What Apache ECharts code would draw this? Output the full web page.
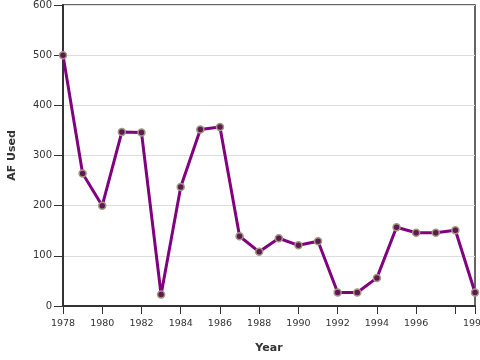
<!DOCTYPE html>
<html>
<head>
<meta charset="utf-8">
<script src="https://cdn.jsdelivr.net/npm/echarts@6/dist/echarts.min.js"></script>
<style>html,body{margin:0;padding:0;background:#fff}#c{width:480px;height:360px}</style>
</head>
<body>
<div id="c"></div>
<script>
var years = [1978,1979,1980,1981,1982,1983,1984,1985,1986,1987,1988,1989,1990,1991,1992,1993,1994,1995,1996,1997,1998,1999];
var afUsed = [500,264,200,347,346,23,237,352,357,139,108,135,121,129,27,27,56,157,146,146,151,27];
var yTicks = [0,100,200,300,400,500,600];

var chart = echarts.init(document.getElementById('c'), null, {renderer:'canvas'});
var font = 'DejaVu Sans';
chart.setOption({
  animation: false,
  grid: {left:63, right:5, top:5, bottom:54, outerBoundsMode:'none', containLabel:false,
         show:true, borderColor:'#333', borderWidth:1.5, backgroundColor:'transparent'},
  xAxis: {
    type:'value', min:1978, max:1999, interval:2,
    name:'Year', nameLocation:'middle', nameGap:37,
    nameTextStyle:{fontFamily:font, fontSize:11, fontWeight:'bold', color:'#333'},
    axisLine:{show:true, lineStyle:{color:'#333', width:2}},
    axisTick:{show:true, length:8, lineStyle:{color:'#333', width:1}},
    axisLabel:{fontFamily:font, fontSize:9.5, color:'#333', margin:13, hideOverlap:false,
      formatter:function(v){ return v===1998 ? '' : String(v); }},
    splitLine:{show:false}
  },
  yAxis: {
    type:'value', min:yTicks[0], max:yTicks[yTicks.length-1], interval:100,
    name:'AF Used', nameLocation:'middle', nameGap:45,
    nameTextStyle:{fontFamily:font, fontSize:11, fontWeight:'bold', color:'#333'},
    axisLine:{show:true, lineStyle:{color:'#333', width:2}},
    axisTick:{show:true, length:9, lineStyle:{color:'#333', width:1}},
    axisLabel:{fontFamily:font, fontSize:10, color:'#333', margin:11},
    splitLine:{show:true, lineStyle:{color:'#ddd', width:1}}
  },
  series: [{
    type:'line',
    data: years.map(function(y,i){return [y, afUsed[i]];}),
    lineStyle:{color:'#800080', width:3},
    symbol:'circle', symbolSize:7, showAllSymbol:true,
    itemStyle:{color:'#5e1a50', borderColor:'#a39880', borderWidth:1.5},
    clip:false
  }]
});
</script>
</body>
</html>
